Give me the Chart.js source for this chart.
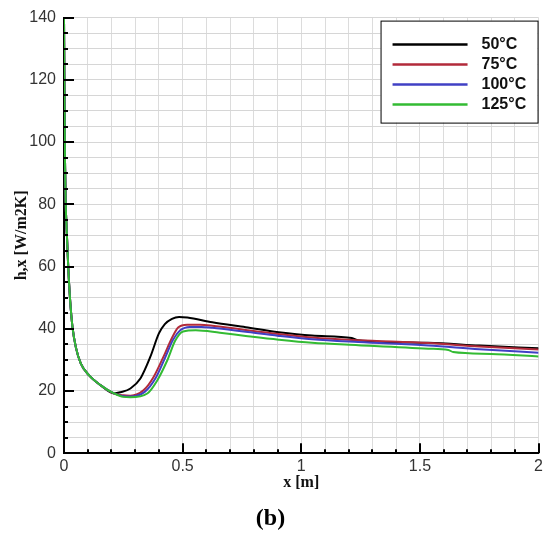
<!DOCTYPE html>
<html>
<head>
<meta charset="utf-8">
<script src="https://cdn.jsdelivr.net/npm/chart.js@4.4.1/dist/chart.umd.min.js"></script>
<style>
  html, body { margin: 0; padding: 0; background: #fff; }
  #wrap { width: 547px; height: 535px; position: relative; }
</style>
</head>
<body>
<div id="wrap"><canvas id="chart"></canvas></div>
<script>
"use strict";

// series labels and colours
const labels = ['50°C', '75°C', '100°C', '125°C'];
const colors = ['#000000', '#b22a3a', '#4040c4', '#33bb33'];

// shared steep start near the leading edge (all four curves overlap here)
const xStart = [0, 0.002, 0.004, 0.007, 0.012, 0.018, 0.026, 0.036, 0.05, 0.071, 0.106, 0.155, 0.211];
const hStart = [140, 115, 95, 81, 70.5, 59.6, 49, 40.4, 34, 28.8, 25, 21.8, 19.2];

// 50°C
const x50 = [0.238, 0.28, 0.322, 0.364, 0.40, 0.425, 0.455, 0.485, 0.52, 0.625, 0.766, 0.905, 1.045, 1.213, 1.24, 1.535, 1.75, 2.0];
const h50 = [19.6, 20.8, 24, 31, 38.5, 41.5, 43.2, 43.8, 43.6, 42.1, 40.5, 38.9, 37.8, 37.0, 36.3, 35.5, 34.6, 33.7];

// 75°C
const x75 = [0.25, 0.28, 0.335, 0.377, 0.418, 0.456, 0.481, 0.519, 0.573, 0.625, 0.766, 0.905, 1.045, 1.24, 1.535, 1.75, 2.0];
const h75 = [18.6, 18.5, 20.2, 24.4, 30.8, 37.2, 40.4, 41.3, 41.3, 41, 39.6, 38.3, 37.2, 36.3, 35.4, 34.3, 33.3];

// 100°C
const x100 = [0.25, 0.28, 0.34, 0.385, 0.425, 0.46, 0.49, 0.53, 0.58, 0.625, 0.766, 0.905, 1.045, 1.24, 1.535, 1.75, 2.0];
const h100 = [18.3, 18.2, 19.7, 24, 30.5, 36.5, 39.5, 40.6, 40.6, 40.3, 39, 37.7, 36.6, 35.7, 34.6, 33.4, 32.3];

// 125°C
const x125 = [0.25, 0.28, 0.351, 0.393, 0.435, 0.469, 0.502, 0.555, 0.657, 0.766, 0.905, 1.045, 1.24, 1.535, 1.62, 1.64, 1.8, 2.0];
const h125 = [18.1, 18, 19.2, 23.4, 29.8, 36.2, 39.1, 39.5, 38.7, 37.7, 36.5, 35.5, 34.7, 33.6, 33.2, 32.5, 31.9, 31.1];

// tick labels
const xMajor = [0, 0.5, 1, 1.5, 2];
const yMajor = [0, 20, 40, 60, 80, 100, 120, 140];

function pts(xs, hs) {
    const start = xStart.map((x, i) => ({ x: x, y: hStart[i] }));
    return start.concat(xs.map((x, i) => ({ x: x, y: hs[i] })));
}

const series = [[x50, h50], [x75, h75], [x100, h100], [x125, h125]];

const isMajor = (v, list) => list.some(m => Math.abs(m - v) < 1e-6);

// inward ticks along the left and bottom axes
const innerTicks = {
    id: 'innerTicks',
    afterDraw(chart) {
        const ctx = chart.ctx;
        const xs = chart.scales.x, ys = chart.scales.y;
        const area = chart.chartArea;
        ctx.save();
        ctx.strokeStyle = '#000';
        ctx.lineWidth = 2;
        xs.ticks.forEach(t => {
            const px = Math.round(xs.getPixelForValue(t.value));
            const len = isMajor(t.value, xMajor) ? 10 : 4;
            ctx.beginPath();
            ctx.moveTo(px, area.bottom);
            ctx.lineTo(px, area.bottom - len);
            ctx.stroke();
        });
        ys.ticks.forEach(t => {
            const py = Math.round(ys.getPixelForValue(t.value));
            const len = isMajor(t.value, yMajor) ? 10 : 4;
            ctx.beginPath();
            ctx.moveTo(area.left, py);
            ctx.lineTo(area.left + len, py);
            ctx.stroke();
        });
        ctx.restore();
    }
};

// boxed legend inside the top right corner
const boxLegend = {
    id: 'boxLegend',
    afterDraw(chart) {
        const ctx = chart.ctx;
        const area = chart.chartArea;
        const right = area.right - 1, left = right - 157, top = area.top + 3, bottom = top + 102;
        ctx.save();
        ctx.fillStyle = '#fff';
        ctx.fillRect(left, top, right - left, bottom - top);
        ctx.strokeStyle = '#000';
        ctx.lineWidth = 1;
        ctx.strokeRect(left + 0.5, top + 0.5, right - left, bottom - top);
        ctx.font = 'bold 16px "Liberation Sans", Arial, sans-serif';
        ctx.textBaseline = 'middle';
        labels.forEach((lab, i) => {
            const y = top + 24 + i * 20;
            ctx.strokeStyle = colors[i];
            ctx.lineWidth = 2.5;
            ctx.beginPath();
            ctx.moveTo(left + 12, y);
            ctx.lineTo(left + 87, y);
            ctx.stroke();
            ctx.fillStyle = '#111';
            ctx.fillText(lab, left + 101, y);
        });
        ctx.restore();
    }
};

new Chart(document.getElementById('chart'), {
    type: 'scatter',
    data: {
        datasets: series.map((s, i) => ({
            label: labels[i],
            data: pts(s[0], s[1]),
            showLine: true,
            borderColor: colors[i],
            backgroundColor: colors[i],
            borderWidth: 2,
            pointRadius: 0,
            cubicInterpolationMode: 'monotone',
            order: 3 - i
        }))
    },
    options: {
        responsive: true,
        maintainAspectRatio: false,
        animation: false,
        layout: { padding: { left: 0, right: 6, top: 16, bottom: 0 } },
        plugins: {
            legend: { display: false },
            tooltip: { enabled: false },
            title: {
                display: true,
                position: 'bottom',
                text: '(b)',
                color: '#000',
                font: { family: '"Liberation Serif", "Times New Roman", serif', size: 24, weight: 'bold' },
                padding: { top: 6, bottom: 2 }
            }
        },
        scales: {
            x: {
                type: 'linear',
                min: 0,
                max: 2,
                afterFit(scale) { scale.height = 45; },
                ticks: {
                    stepSize: 0.1,
                    autoSkip: false,
                    maxRotation: 0,
                    padding: 4,
                    color: '#333',
                    font: { family: '"Liberation Sans", Arial, sans-serif', size: 16 },
                    callback: v => isMajor(v, xMajor) ? String(Math.round(v * 10) / 10) : ''
                },
                grid: { color: '#dcdcdc', lineWidth: 1, drawTicks: false },
                border: { display: true, color: '#000', width: 2 },
                title: {
                    display: true,
                    text: 'x [m]',
                    color: '#111',
                    font: { family: '"Liberation Serif", "Times New Roman", serif', size: 16, weight: 'bold' },
                    padding: { top: 0, bottom: 6 }
                }
            },
            y: {
                type: 'linear',
                min: 0,
                max: 140,
                afterFit(scale) { scale.width = 64; },
                ticks: {
                    stepSize: 5,
                    autoSkip: false,
                    padding: 8,
                    color: '#333',
                    font: { family: '"Liberation Sans", Arial, sans-serif', size: 16 },
                    callback: v => isMajor(v, yMajor) ? String(v) : ''
                },
                grid: { color: '#d6d6d6', lineWidth: 1, drawTicks: false, borderDash: [2, 2] },
                border: { display: true, color: '#000', width: 2, dash: [] },
                title: {
                    display: true,
                    text: 'h,x [W/m2K]',
                    color: '#111',
                    font: { family: '"Liberation Serif", "Times New Roman", serif', size: 16, weight: 'bold' },
                    padding: { top: 12, bottom: 0 }
                }
            }
        }
    },
    plugins: [innerTicks, boxLegend]
});
</script>
</body>
</html>
